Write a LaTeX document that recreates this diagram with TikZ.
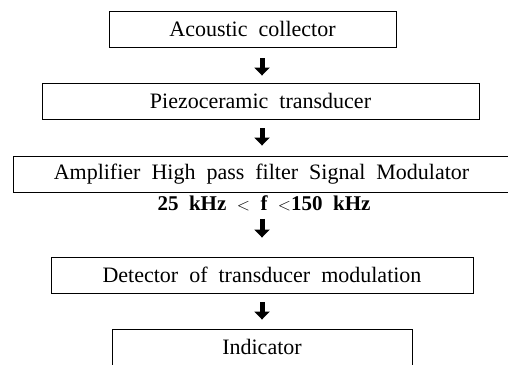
\documentclass[tikz,border=0pt]{standalone}
\usepackage{fontspec}
\setmainfont{Liberation Serif}[WordSpace=2]
\usetikzlibrary{arrows.meta}
\begin{document}
\begin{tikzpicture}[x=1pt,y=-1pt,
  stage/.style={draw=black, line width=0.9pt, inner sep=0pt, minimum height=36pt,
    font=\fontsize{22}{26}\selectfont},
  note/.style={inner sep=0pt, font=\fontsize{21}{25}\selectfont\bfseries},
  flow/.style={line width=5pt, -{Triangle[width=15pt,length=8pt]}}
]
\useasboundingbox (0,0) rectangle (508,364);
\clip (0,0) rectangle (508,364);

% processing chain
\node[stage, minimum width=287pt] (collector) at (252.5,29) {Acoustic collector};
\node[stage, minimum width=437pt] (piezo) at (260.5,101) {Piezoceramic transducer};
\node[stage, minimum width=497pt] (amp) at (261.5,174) {Amplifier High pass filter Signal Modulator};
\node[note] (band) at (264,203) {25 kHz {\fontsize{18}{21}\selectfont$<$} f {\fontsize{18}{21}\selectfont$<$}150 kHz};
\node[stage, minimum width=422pt] (detector) at (262,275) {Detector of transducer modulation};
\node[stage, minimum width=300pt, minimum height=50pt, text depth=14pt] (indicator) at (262,354) {Indicator};

% arrow column
\coordinate (col) at (262,0);
\draw[flow, shorten <=11pt, shorten >=7pt] (collector.south -| col) -- (piezo.north -| col);
\draw[flow, shorten <=9pt, shorten >=10pt] (piezo.south -| col) -- (amp.north -| col);
\draw[flow, shorten <=8pt, shorten >=19pt] (band.south -| col) -- (detector.north -| col);
\draw[flow, shorten <=9pt, shorten >=9pt] (detector.south -| col) -- (indicator.north -| col);
\end{tikzpicture}
\end{document}
